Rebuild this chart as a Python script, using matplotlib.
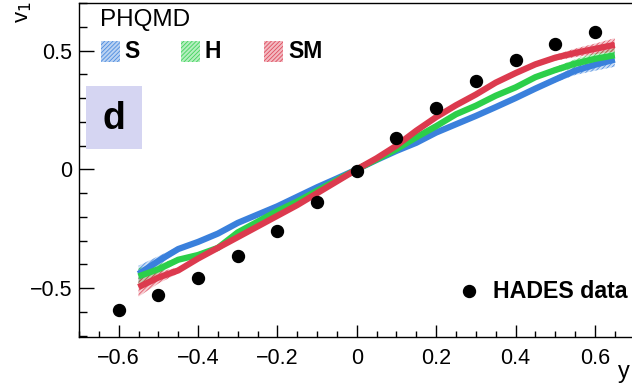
import numpy as np
import matplotlib
matplotlib.use("Agg")
import matplotlib.pyplot as plt
from matplotlib.patches import Rectangle
from matplotlib.ticker import MultipleLocator

plt.rcParams['font.family'] = ['Liberation Sans', 'DejaVu Sans']
plt.rcParams['hatch.linewidth'] = 0.6

# HADES measurement
hades_y = [-0.6, -0.5, -0.4, -0.3, -0.2, -0.1, 0.0, 0.1, 0.2, 0.3, 0.4, 0.5, 0.6]
hades_v1 = [-0.591, -0.528, -0.455, -0.365, -0.259, -0.138, -0.005,
            0.131, 0.26, 0.372, 0.461, 0.529, 0.577]

# PHQMD calculations (rapidity grid shared by all three EoS)
model_y = [-0.55, -0.5, -0.45, -0.4, -0.35, -0.3, -0.25, -0.2, -0.15, -0.1, -0.05,
           0.0, 0.05, 0.1, 0.15, 0.2, 0.25, 0.3, 0.35, 0.4, 0.45, 0.5, 0.55, 0.6, 0.65]
v1_S = [-0.44, -0.385, -0.335, -0.305, -0.27, -0.225, -0.19, -0.155, -0.115, -0.075, -0.038,
        0.0, 0.04, 0.078, 0.112, 0.155, 0.19, 0.225, 0.262, 0.3, 0.34, 0.378, 0.415, 0.44, 0.462]
v1_H = [-0.45, -0.42, -0.38, -0.36, -0.33, -0.265, -0.22, -0.175, -0.135, -0.09, -0.045,
        0.0, 0.042, 0.085, 0.135, 0.182, 0.232, 0.268, 0.31, 0.345, 0.388, 0.418, 0.445, 0.465, 0.48]
v1_SM = [-0.495, -0.455, -0.425, -0.375, -0.33, -0.285, -0.24, -0.195, -0.15, -0.1, -0.05,
         0.0, 0.047, 0.1, 0.163, 0.22, 0.27, 0.315, 0.365, 0.405, 0.442, 0.47, 0.49, 0.507, 0.524]
err_S = [0.035, 0.02, 0.01, 0.006, 0.005, 0.005, 0.005, 0.005, 0.005, 0.005, 0.005,
         0.005, 0.005, 0.005, 0.005, 0.005, 0.005, 0.005, 0.005, 0.006, 0.008, 0.012, 0.018, 0.025, 0.03]
err_H = [0.035, 0.02, 0.01, 0.006, 0.005, 0.005, 0.005, 0.005, 0.005, 0.005, 0.005,
         0.005, 0.005, 0.005, 0.005, 0.005, 0.005, 0.005, 0.005, 0.006, 0.008, 0.012, 0.018, 0.025, 0.03]
err_SM = [0.04, 0.025, 0.012, 0.006, 0.005, 0.005, 0.005, 0.005, 0.005, 0.005, 0.005,
          0.005, 0.005, 0.005, 0.005, 0.005, 0.005, 0.005, 0.005, 0.006, 0.008, 0.012, 0.018, 0.022, 0.028]

series = [("S", v1_S, err_S, "#3a80dc"),
          ("H", v1_H, err_H, "#2ccf4a"),
          ("SM", v1_SM, err_SM, "#dc3a4e")]

W, H = 632, 385
fig = plt.figure(figsize=(W / 100, H / 100), dpi=100)


def fx(px):
    return px / W


def fy(py):
    return 1 - py / H


ax = fig.add_axes([fx(79), fy(337), fx(634.6) - fx(79), fy(3) - fy(337)])
ax.set_xlim(-0.7, 0.7)
ax.set_ylim(-0.705, 0.70)

x = np.array(model_y)
for name, v, e, c in series:
    v = np.array(v)
    e = np.array(e)
    ax.fill_between(x, v - e, v + e, facecolor=c, alpha=0.25, linewidth=0, zorder=2)
    ax.fill_between(x, v - e, v + e, facecolor="none", edgecolor=c, hatch="////////",
                    linewidth=0, alpha=0.8, zorder=2)
    ax.plot(x, v, color=c, lw=4.5, solid_capstyle="butt", zorder=3)

ax.plot(hades_y, hades_v1, "o", color="black", ms=8.6, zorder=5)

# axes styling
ax.spines["right"].set_visible(False)
for s in ("left", "bottom", "top"):
    ax.spines[s].set_linewidth(1.0)
ax.xaxis.set_major_locator(MultipleLocator(0.2))
ax.xaxis.set_minor_locator(MultipleLocator(0.05))
ax.yaxis.set_major_locator(MultipleLocator(0.5))
ax.yaxis.set_minor_locator(MultipleLocator(0.1))
ax.tick_params(axis="x", which="major", direction="in", length=8.5, width=1,
               labelsize=15.5, pad=8, top=False)
ax.tick_params(axis="x", which="minor", direction="in", length=4.3, width=1, top=False)
ax.tick_params(axis="y", which="major", direction="in", length=11, width=1,
               labelsize=15.5, pad=5, right=False)
ax.tick_params(axis="y", which="minor", direction="in", length=6, width=1, right=False)
ax.set_xticks([-0.6, -0.4, -0.2, 0, 0.2, 0.4, 0.6])
ax.set_xticklabels(["\u22120.6", "\u22120.4", "\u22120.2", "0", "0.2", "0.4", "0.6"])
ax.set_yticks([-0.5, 0, 0.5])
ax.set_yticklabels(["\u22120.5", "0", "0.5"])

# axis titles
fig.text(fx(23), fy(12), "v$_1$", rotation=90, fontsize=16, ha="center", va="center")
fig.text(fx(624), fy(372), "y", fontsize=17, ha="center", va="center")

# model legend
fig.text(fx(100), fy(20), "PHQMD", fontsize=17.5, ha="left", va="center")
legend_pos = [(101, 124), (181, 205), (264, 288)]
for (bx, tx), (name, v, e, c) in zip(legend_pos, series):
    r = Rectangle((fx(bx), fy(62)), fx(19), fy(41) - fy(62), transform=fig.transFigure,
                  facecolor=c, alpha=0.35, edgecolor="none")
    fig.add_artist(r)
    rh = Rectangle((fx(bx), fy(62)), fx(19), fy(41) - fy(62), transform=fig.transFigure,
                   facecolor="none", edgecolor=c, hatch="////////", linewidth=0, alpha=0.85)
    fig.add_artist(rh)
    fig.text(fx(tx), fy(51.5), name, fontsize=16.5, fontweight="bold", ha="left", va="center")

# panel tag
tag = Rectangle((fx(86), fy(149)), fx(56), fy(86) - fy(149), transform=fig.transFigure,
                facecolor="#d5d5f2", edgecolor="none")
fig.add_artist(tag)
fig.text(fx(114), fy(119), "d", fontsize=27, fontweight="bold", ha="center", va="center")

# data legend
ax.plot([0.282], [-0.513], "o", color="black", ms=8.6, zorder=6)
fig.text(fx(493), fy(292), "HADES data", fontsize=16.7, fontweight="bold",
         ha="left", va="center")

fig.savefig("out.png", dpi=100)
